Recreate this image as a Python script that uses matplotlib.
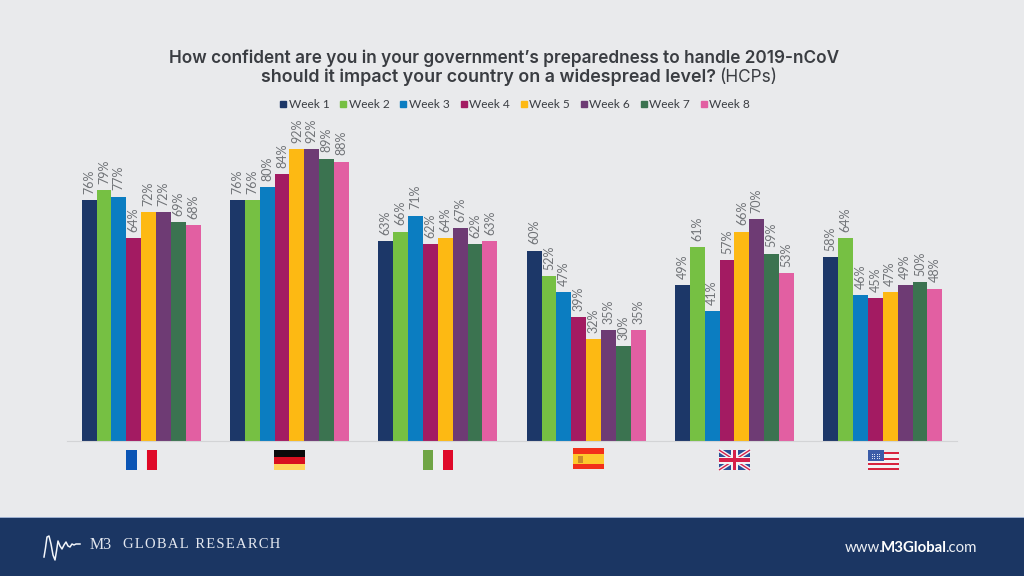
import matplotlib
matplotlib.use("Agg")
import matplotlib.pyplot as plt
from matplotlib.patches import Rectangle
from matplotlib.lines import Line2D
import numpy as np

countries = ["France", "Germany", "Italy", "Spain", "UK", "USA"]
weeks = ["Week 1", "Week 2", "Week 3", "Week 4", "Week 5", "Week 6", "Week 7", "Week 8"]
week1 = [76, 76, 63, 60, 49, 58]
week2 = [79, 76, 66, 52, 61, 64]
week3 = [77, 80, 71, 47, 41, 46]
week4 = [64, 84, 62, 39, 57, 45]
week5 = [72, 92, 64, 32, 66, 47]
week6 = [72, 92, 67, 35, 70, 49]
week7 = [69, 89, 62, 30, 59, 50]
week8 = [68, 88, 63, 35, 53, 48]
series = [week1, week2, week3, week4, week5, week6, week7, week8]
colors = ["#1C3768", "#76C043", "#0B7DC1", "#A31B62", "#FDB913", "#6E3B74", "#3B7350", "#E25FA2"]

BG = "#E9EAEC"
NAVY = "#1B3663"
INK = "#3A3D42"
W, H = 1024, 576

plt.rcParams["font.family"] = ["Lato", "DejaVu Sans"]
fig = plt.figure(figsize=(W / 100, H / 100), dpi=100, facecolor=BG)

# Main bar chart: baseline at y=441 px, 3.174 px per percentage point
left, right, base, top = 67, 957, 441, 130
ax = fig.add_axes([left / W, 1 - base / H, (right - left) / W, (base - top) / H])
ax.set_facecolor("none")
ax.set_xlim(-0.5, 5.5)
ax.set_ylim(0, (base - top) / 3.174)
bar_w = 0.1003
x = np.arange(len(countries))
for i, (vals, col, name) in enumerate(zip(series, colors, weeks)):
    pos = x + (i - 3.5) * bar_w
    ax.bar(pos, vals, width=bar_w, color=col, label=name, linewidth=0)
    for px_, v in zip(pos, vals):
        ax.annotate(f"{v}%", (px_, v), xytext=(0, 4.5), textcoords="offset points",
                    rotation=90, ha="center", va="bottom", fontsize=9,
                    color="#707377")
for s in ["top", "left", "right"]:
    ax.spines[s].set_visible(False)
ax.spines["bottom"].set_color("#D3D4D6")
ax.spines["bottom"].set_linewidth(0.8)
ax.set_yticks([])
ax.set_xticks([])

handles = [Line2D([], [], linestyle="none", marker="s", markersize=4.2, color=c) for c in colors]
fig.legend(handles, weeks, loc="center", bbox_to_anchor=(514 / W, 1 - 104.5 / H), ncols=8,
           frameon=False, fontsize=8.6, labelcolor=INK, handletextpad=0.0,
           columnspacing=0.72, handlelength=0.9, borderpad=0)

# Overlay in pixel coordinates for title, flags and footer
ov = fig.add_axes([0, 0, 1, 1])
ov.set_xlim(0, W)
ov.set_ylim(H, 0)
ov.axis("off")
ov.patch.set_alpha(0)

ov.text(504, 58, "How confident are you in your government\u2019s preparedness to handle 2019-nCoV",
        ha="center", va="center", fontsize=12.4, fontweight="semibold", family="Inter", color=INK)
ov.text(716, 77, "should it impact your country on a widespread level?",
        ha="right", va="center", fontsize=12.85, fontweight="semibold", family="Inter", color=INK)
ov.text(719, 77, "(HCPs)", ha="left", va="center", fontsize=12.4, family="Inter", color=INK)


def rect(x0, y0, w, h, c, z=3):
    ov.add_patch(Rectangle((x0, y0), w, h, facecolor=c, edgecolor="none", zorder=z))


# France
rect(126, 450, 11, 20, "#0B55B5")
rect(137, 450, 9, 20, "#EDF0F5")
rect(146.5, 450, 10.5, 20, "#DF0A2A")
# Germany
rect(274, 450, 31, 7, "#0A0A0A")
rect(274, 457, 31, 6.5, "#D8101F")
rect(274, 463.5, 31, 6.5, "#FFD65C")
# Italy
rect(423, 450, 10, 20, "#6FA545")
rect(433, 450, 10, 20, "#EEF0F0")
rect(443, 450, 10, 20, "#DF0A2A")
# Spain
rect(573, 448, 31, 21, "#F2301B")
rect(573, 454, 31, 9.5, "#FDC92D")
rect(577.5, 455.5, 5, 7, "#C98A2A")
# United Kingdom
rect(719, 450, 31, 20, "#2A4F96")
ov.plot([719, 750], [450, 470], color="#F3F3F6", lw=3, zorder=4, solid_capstyle="butt")
ov.plot([719, 750], [470, 450], color="#F3F3F6", lw=3, zorder=4, solid_capstyle="butt")
ov.plot([719, 750], [450, 470], color="#D6204A", lw=1, zorder=5, solid_capstyle="butt")
ov.plot([719, 750], [470, 450], color="#D6204A", lw=1, zorder=5, solid_capstyle="butt")
rect(731, 450, 7, 20, "#F3F3F6", 6)
rect(719, 456.5, 31, 7, "#F3F3F6", 6)
rect(732.8, 450, 3.4, 20, "#D6204A", 7)
rect(719, 458.3, 31, 3.4, "#D6204A", 7)
# United States
rect(868, 452, 31, 18, "#F2F2F4")
for sy in (452, 457.5, 463, 468):
    rect(868, sy, 31, 2.3, "#D8243F")
rect(868, 450, 16, 11, "#3B5CA8", 5)
for r in range(4):
    for c in range(6):
        rect(869.5 + c * 2.4, 451.5 + r * 2.3, 0.9, 0.9, "#DDE3F2", 6)

# Footer band
rect(0, 518, W, 58, NAVY, 1)
rect(0, 517, W, 1.2, "#9DB0D0", 1)
sig_x = [44, 45.5, 47, 49, 51, 53, 55, 56.5, 58, 60, 62, 64, 66, 68, 70, 72, 74, 76, 80]
sig_y = [557, 548, 537, 536, 544, 555, 560, 551, 541, 546, 549, 545, 542, 546, 547, 544, 545, 544, 544]
ov.plot(sig_x, sig_y, color="#F2F5FA", lw=1.1, zorder=4, solid_joinstyle="round")
ov.text(90, 545, "M3", family="Liberation Serif", fontsize=11.5, color="#E4E8F0", va="center", ha="left")
ov.text(123, 545, "G\u200aL\u200aO\u200aB\u200aA\u200aL  R\u200aE\u200aS\u200aE\u200aA\u200aR\u200aC\u200aH",
        family="Liberation Serif", fontsize=10.5, color="#E4E8F0", va="center", ha="left")
ov.text(845, 547.5, "www.", fontsize=10.8, color="#EDF0F5", va="center", ha="left")
ov.text(880.5, 547.5, "M3Global", fontsize=10.8, fontweight="bold", color="white", va="center", ha="left")
ov.text(945.5, 547.5, ".com", fontsize=10.8, color="#EDF0F5", va="center", ha="left")

fig.savefig("out.png", dpi=100, facecolor=BG)
